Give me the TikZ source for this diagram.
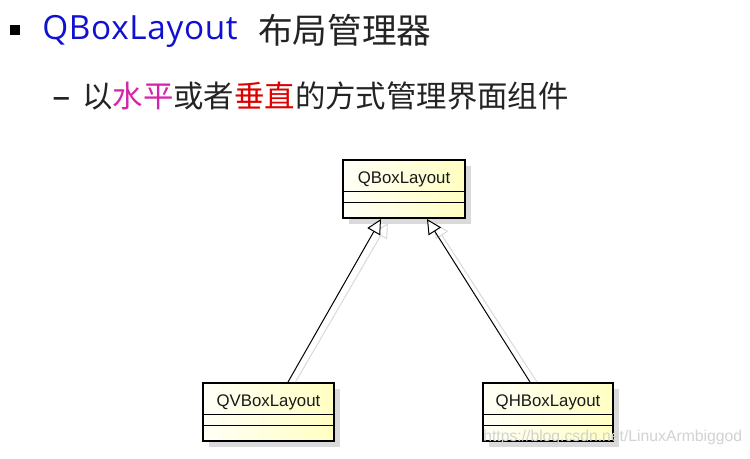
\documentclass[tikz,border=0pt]{standalone}
\usepackage{fontspec}
\setmainfont{Liberation Sans}
\newfontfamily\cjk{Noto Sans CJK SC}
\newfontfamily\titlefont[LetterSpace=2]{Open Sans}
\usetikzlibrary{arrows.meta,calc,shadows}

\definecolor{titleblue}{RGB}{16,16,210}
\definecolor{flatpink}{RGB}{214,36,170}
\definecolor{uprightred}{RGB}{220,0,0}
\definecolor{textgray}{RGB}{35,35,35}
\definecolor{boxshadow}{RGB}{218,218,218}

\tikzset{
  classbox/.style={draw=black,line width=1.5pt,minimum height=43.5pt,inner sep=0pt,
    left color=yellow!3,right color=yellow!24,
    drop shadow={shadow xshift=4.5pt,shadow yshift=-4.5pt,fill=boxshadow,opacity=1}},
  classname/.style={font=\fontsize{12.6}{14}\selectfont,anchor=base,inner sep=0pt,text=black!90},
  divider/.style={line width=0.75pt},
  inherit/.style={line width=0.75pt,-{Triangle[open,length=11pt,width=11pt,fill=white]}},
  inheritshadow/.style={line width=0.75pt,draw=boxshadow,-{Triangle[open,length=11pt,width=11pt,fill=white,color=boxshadow]}},
  txt/.style={inner sep=0pt,anchor=base west}
}

\begin{document}
\begin{tikzpicture}[x=0.75pt,y=-0.75pt]
  \useasboundingbox[fill=white] (0,0) rectangle (750,458);

  % heading
  \node[fill=black,minimum size=7.5pt,inner sep=0pt] (bullet) at (15.2,30) {};
  \node[txt,text=titleblue,font=\titlefont\fontsize{25}{30}\selectfont] (title) at (42,39.3) {QBoxLayout};
  \node[txt,text=textgray,font=\cjk\fontsize{26}{30}\selectfont] (titlecn) at (258,43) {布局管理器};

  \node[txt,text=textgray,font=\titlefont\fontsize{27}{30}\selectfont] (dash) at (52,108) {–};
  \node[txt,text=textgray,font=\cjk\fontsize{22.8}{27}\selectfont] (desc) at (82,107.5)
    {以\textcolor{flatpink}{水平}或者\textcolor{uprightred}{垂直}的方式管理界面组件};

  % classes
  \node[classbox,minimum width=91.5pt] (base) at (404,189) {};
  \node[classbox,minimum width=98.25pt] (vbox) at (268.5,412) {};
  \node[classbox,minimum width=97.5pt] (hbox) at (548,412) {};

  \foreach \cls/\lbl in {base/QBoxLayout,vbox/QVBoxLayout,hbox/QHBoxLayout}{
    \node[classname] (\cls-name) at ($(\cls.north)+(0,24)$) {\lbl};
    \draw[divider] ($(\cls.north west)+(0,32)$) -- ($(\cls.north east)+(0,32)$);
    \draw[divider] ($(\cls.north west)+(0,43)$) -- ($(\cls.north east)+(0,43)$);
  }

  % generalisation
  \draw[inheritshadow] ($(vbox.north)+(27,0)$) -- ($(base.south)+(-16,4)$);
  \draw[inheritshadow] ($(hbox.north)+(-11,0)$) -- ($(base.south)+(30,4)$);
  \draw[inherit] ($(vbox.north)+(19.5,0)$) -- ($(base.south)+(-23,0)$);
  \draw[inherit] ($(hbox.north)+(-18,0)$) -- ($(base.south)+(23,0)$);

  \node[txt,text=gray!35,font=\fontsize{11.8}{14}\selectfont] (mark) at (483,441)
    {https://blog.csdn.net/LinuxArmbiggod};
\end{tikzpicture}
\end{document}
